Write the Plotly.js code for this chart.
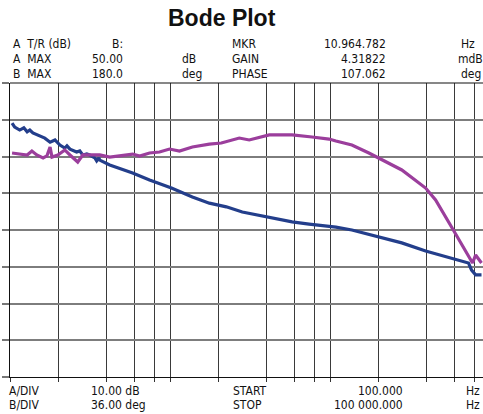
<!DOCTYPE html>
<html>
<head>
<meta charset="utf-8">
<script src="https://cdn.plot.ly/plotly-3.0.1.min.js"></script>
<style>html,body{margin:0;padding:0;background:#fff;}#chart{width:483px;height:414px;}</style>
</head>
<body>
<div id="chart"></div>
<script>
// Gain trace (A, dB)
const gainFreq = [103,107,115,122,128,133,139,147,154,165,178,191,205,220,227,237,261,273,285,302,315,339,348,359,364,420,584,745,1021,1380,1762,2249,2830,4169,5798,7396,9863,10890,13700,20200,28100,39600,57500,73400,76700,81300,88500];
const gainDb = [39.1,38.0,37.2,37.8,36.7,37.2,36.4,35.9,35.6,35.0,33.9,34.5,33.1,32.3,32.9,32.0,31.2,31.5,30.4,30.7,30.4,29.6,28.8,29.6,29.0,27.7,25.5,23.6,21.4,19.0,17.3,16.3,14.9,13.5,12.2,11.6,11.1,10.8,10.0,8.1,6.5,4.3,2.4,1.0,-0.9,-2.2,-2.2];
// Phase trace (B, deg)
const phaseFreq = [103,115,128,137,147,161,170,178,183,199,220,237,265,285,364,420,584,646,745,860,993,1146,1380,1762,2094,2711,3128,4169,5798,7727,9863,10890,13700,17500,22300,28100,39600,45700,57500,70300,77800,81300,88500];
const phaseDeg = [111.4,110.4,109.5,113.4,109.5,106.5,108.5,117.3,107.5,109.5,114.4,109.5,102.6,109.5,109.5,107.5,110.4,108.5,111.4,112.4,115.3,113.4,117.3,120.2,121.2,126.1,124.2,129.1,129.1,127.1,125.1,123.2,119.3,111.4,102.6,94.8,77.1,65.4,38.9,16.4,3.7,11.5,3.7];
// Grid frequencies (1,2,4,6,8 per decade)
const gridFreq = [100,200,400,600,800,1000,2000,4000,6000,8000,10000,20000,40000,60000,80000,100000];
const gainTicks = [-30,-20,-10,0,10,20,30,40,50];

const FONT = '"DejaVu Sans Condensed", "Liberation Sans Narrow", Arial, sans-serif';
const W = 483, H = 414, L = 10, T = 83, B = 377;
function P(px, py){ return {x:(px-L)/(W-L), y:(B-py)/(B-T)}; }
function txt(s, px, py, anchor, size, bold){
  const p = P(px, py);
  return {text: bold ? '<b>'+s+'</b>' : s, xref:'paper', yref:'paper', x:p.x, y:p.y,
    xanchor: anchor, yanchor:'middle', showarrow:false,
    font:{family: bold ? '"Liberation Sans", Arial, sans-serif' : FONT, size:size, color:'#111'}};
}
const S = 12;
const ann = [
  txt('Bode Plot', 222, 18, 'center', 23, true),
  txt('A  T/R (dB)', 11, 44, 'left', S),
  txt('A  MAX', 11, 59, 'left', S),
  txt('B  MAX', 11, 74, 'left', S),
  txt('B:', 125, 44, 'right', S),
  txt('50.00', 125, 59, 'right', S),
  txt('180.0', 125, 74, 'right', S),
  txt('dB', 180, 59, 'left', S),
  txt('deg', 180, 74, 'left', S),
  txt('MKR', 230, 44, 'left', S),
  txt('GAIN', 230, 59, 'left', S),
  txt('PHASE', 230, 74, 'left', S),
  txt('10.964.782', 388, 44, 'right', S),
  txt('4.31822', 388, 59, 'right', S),
  txt('107.062', 388, 74, 'right', S),
  txt('Hz', 459, 44, 'left', S),
  txt('mdB', 456, 59, 'left', S),
  txt('deg', 459, 74, 'left', S),
  txt('A/DIV', 7, 391, 'left', S),
  txt('B/DIV', 7, 405, 'left', S),
  txt('10.00 dB', 89, 391, 'left', S),
  txt('36.00 deg', 89, 405, 'left', S),
  txt('START', 231, 391, 'left', S),
  txt('STOP', 231, 405, 'left', S),
  txt('100.000', 405, 391, 'right', S),
  txt('100 000.000', 405, 405, 'right', S),
  txt('Hz', 464, 391, 'left', S),
  txt('Hz', 464, 405, 'left', S)
];

const traces = [
  {x: phaseFreq, y: phaseDeg, yaxis:'y2', mode:'lines', line:{color:'#9b3e9c', width:3.2}, hoverinfo:'skip'},
  {x: gainFreq, y: gainDb, yaxis:'y', mode:'lines', line:{color:'#233e8b', width:3.2}, hoverinfo:'skip'}
];

const layout = {
  width: W, height: H,
  margin:{l:L, r:0, t:T, b:H-B},
  paper_bgcolor:'#fff', plot_bgcolor:'#fff',
  showlegend:false,
  xaxis:{type:'log', range:[2, 2 + (W-L)/160], tickmode:'array', tickvals:gridFreq,
    showticklabels:false, ticks:'outside', ticklen:4, tickcolor:'#333', tickwidth:1,
    showgrid:true, gridcolor:'#3a3a3a', gridwidth:1, zeroline:false,
    showline:true, linecolor:'#111', linewidth:1.2, mirror:false, fixedrange:true},
  yaxis:{range:[-30,50], tickmode:'array', tickvals:gainTicks, showticklabels:false,
    ticks:'outside', ticklen:7, tickcolor:'#777', tickwidth:2,
    showgrid:true, gridcolor:'#7d7d7d', gridwidth:2, zeroline:false,
    showline:true, linecolor:'#111', linewidth:1.2, fixedrange:true},
  yaxis2:{range:[-108,180], overlaying:'y', side:'right', showgrid:false, showticklabels:false,
    zeroline:false, showline:false, ticks:'', fixedrange:true},
  shapes:[{type:'line', xref:'paper', yref:'paper', x0:0, x1:1, y0:1, y1:1, line:{color:'#111', width:1.2}}],
  annotations: ann
};
Plotly.newPlot('chart', traces, layout, {staticPlot:true, displayModeBar:false});
</script>
</body>
</html>
